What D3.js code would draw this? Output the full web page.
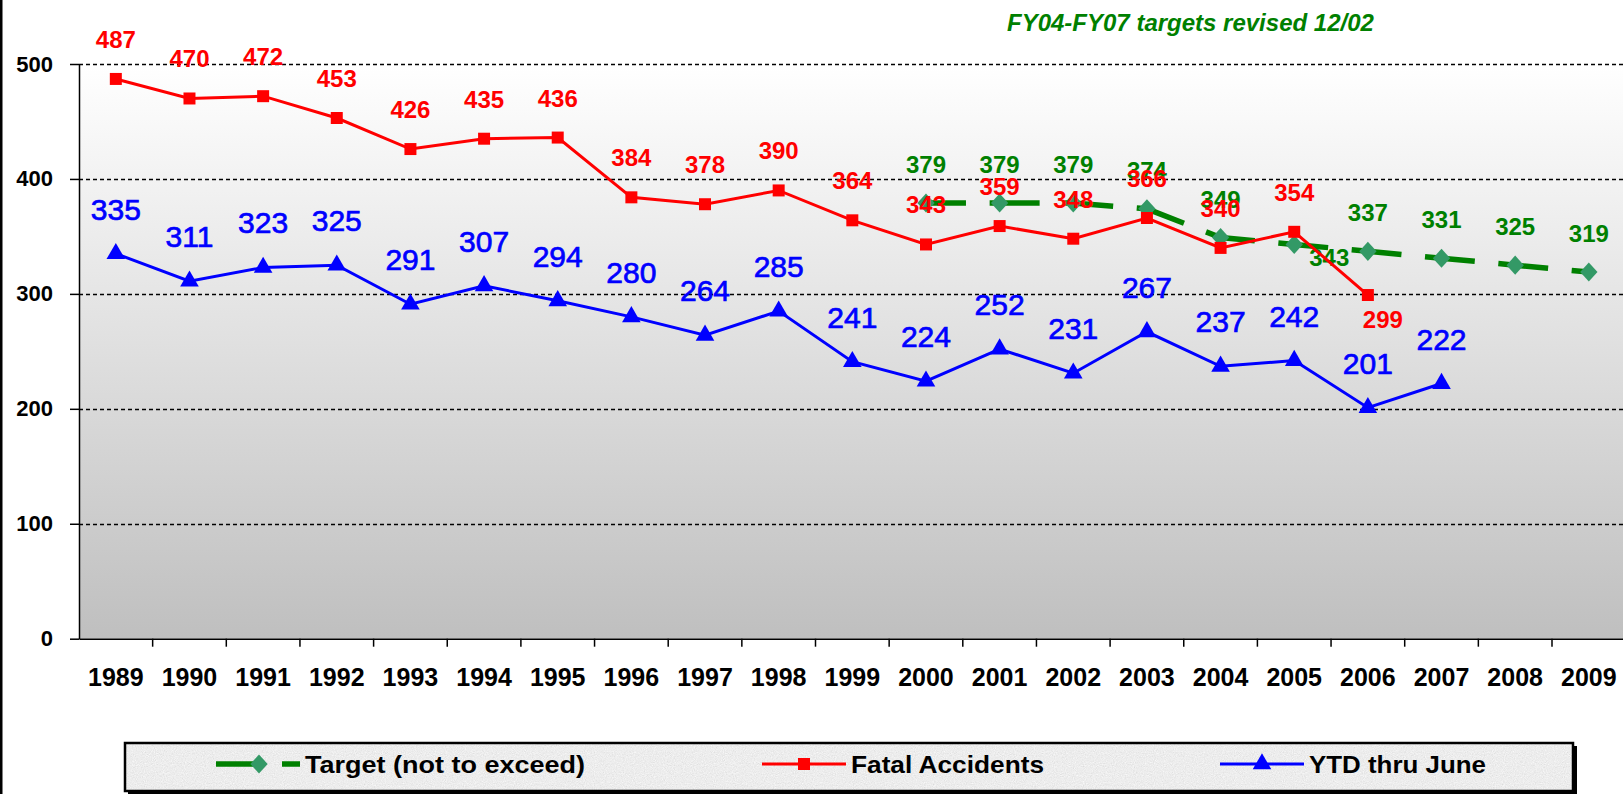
<!DOCTYPE html>
<html>
<head>
<meta charset="utf-8">
<script src="https://cdn.jsdelivr.net/npm/d3@7"></script>
<style>
body { margin: 0; background: #fff; }
svg { display: block; font-family: Arial, "Liberation Sans", sans-serif; }
</style>
</head>
<body>
<div id="chart"></div>
<script>
// ---- data ----
const years = ['1989','1990','1991','1992','1993','1994','1995','1996','1997','1998','1999',
               '2000','2001','2002','2003','2004','2005','2006','2007','2008','2009'];
const fatalYears = years.slice(0, 18);   // 1989 - 2006
const fatalValues = [487, 470, 472, 453, 426, 435, 436, 384, 378, 390, 364, 343, 359, 348, 366, 340, 354, 299];
const ytdYears = years.slice(0, 19);     // 1989 - 2007
const ytdValues = [335, 311, 323, 325, 291, 307, 294, 280, 264, 285, 241, 224, 252, 231, 267, 237, 242, 201, 222];
const targetYears = years.slice(11);     // 2000 - 2009
const targetValues = [379, 379, 379, 374, 349, 343, 337, 331, 325, 319];
const yTicks = [0, 100, 200, 300, 400, 500];
const legendNames = ['Target (not to exceed)', 'Fatal Accidents', 'YTD thru June'];
const note = 'FY04-FY07 targets revised 12/02';

// labels that sit below their point instead of above (value = x shift)
const labelBelow = {fatal: {'2006': 15}, target: {'2005': 35}};

const width = 1623, height = 794;
const bandW = 73.65;
const left = 79;

var svg = d3.select('#chart').append('svg')
  .attr('width', width)
  .attr('height', height);

svg.append('rect').attr('width', width).attr('height', height).attr('fill', '#fff');

// ******** defs *********
var defs = svg.append('defs');
var grad = defs.append('linearGradient')
  .attr('id', 'plotbg')
  .attr('x1', 0).attr('y1', 0).attr('x2', 0).attr('y2', 1);
grad.append('stop').attr('offset', '0%').attr('stop-color', '#ffffff');
grad.append('stop').attr('offset', '100%').attr('stop-color', '#bfbfbf');

var granite = defs.append('filter')
  .attr('id', 'granite')
  .attr('x', 0).attr('y', 0).attr('width', 1).attr('height', 1);
granite.append('feTurbulence')
  .attr('type', 'fractalNoise')
  .attr('baseFrequency', 0.9)
  .attr('numOctaves', 2)
  .attr('seed', 4);
granite.append('feColorMatrix')
  .attr('type', 'matrix')
  .attr('values', '0.33 0.33 0.33 0 0  0.33 0.33 0.33 0 0  0.33 0.33 0.33 0 0  0 0 0 0 1');
var ct = granite.append('feComponentTransfer');
['feFuncR', 'feFuncG', 'feFuncB'].forEach(function(f){
  ct.append(f).attr('type', 'linear').attr('slope', 0.45).attr('intercept', 0.62);
});

// ******** scales *********
var x = d3.scaleBand()
  .domain(years)
  .range([left, left + bandW * years.length])
  .padding(0);
var y = d3.scaleLinear()
  .domain([0, 500])
  .range([638.7, 64]);
function cx(d){ return x(d) + x.bandwidth() / 2; }

// outer chart border (left edge)
svg.append('rect')
  .attr('x', 0).attr('y', 0)
  .attr('width', 2.5).attr('height', height)
  .attr('fill', '#000');

// ******** plot area *********
svg.append('rect')
  .attr('x', left)
  .attr('y', y(500))
  .attr('width', x.range()[1] - left)
  .attr('height', y(0) - y(500))
  .attr('fill', 'url(#plotbg)');

svg.append('g')
  .selectAll('line')
  .data(yTicks.filter(function(v){ return v > 0; }))
  .join('line')
  .attr('x1', left).attr('x2', x.range()[1])
  .attr('y1', function(d){ return Math.round(y(d)) + 0.5; })
  .attr('y2', function(d){ return Math.round(y(d)) + 0.5; })
  .attr('stroke', '#000')
  .attr('stroke-width', 1.5)
  .attr('stroke-dasharray', '4,3');

// ******** axes *********
var yAxis = svg.append('g')
  .attr('transform', `translate(${left},0)`)
  .call(d3.axisLeft(y).tickValues(yTicks).tickSize(9).tickSizeOuter(0).tickPadding(17));
yAxis.selectAll('path, line').attr('stroke', '#000').attr('stroke-width', 1.5);
yAxis.selectAll('text')
  .attr('font-size', 22)
  .attr('font-weight', 'bold')
  .attr('font-family', 'Arial, "Liberation Sans", sans-serif')
  .attr('fill', '#000');

var xAxis = svg.append('g')
  .attr('transform', `translate(0,${y(0)})`)
  .call(d3.axisBottom(x).tickSize(0).tickSizeOuter(0).tickPadding(0));
xAxis.select('.domain').attr('stroke', '#000').attr('stroke-width', 1.5);
xAxis.selectAll('text')
  .attr('y', 47)
  .attr('dy', 0)
  .attr('font-size', 25)
  .attr('font-weight', 'bold')
  .attr('font-family', 'Arial, "Liberation Sans", sans-serif')
  .attr('fill', '#000');
xAxis.selectAll('.bound')
  .data(years.slice(1))
  .join('line')
  .attr('class', 'bound')
  .attr('x1', function(d){ return x(d); })
  .attr('x2', function(d){ return x(d); })
  .attr('y1', 0).attr('y2', 8)
  .attr('stroke', '#000')
  .attr('stroke-width', 1.5);

// ******** series *********
function pts(ys, vs){
  return ys.map(function(d, i){ return {year: d, value: vs[i]}; });
}
var line = d3.line()
  .x(function(d){ return cx(d.year); })
  .y(function(d){ return y(d.value); });

function drawLabels(g, data, opt){
  g.selectAll('text')
    .data(data)
    .join('text')
    .attr('x', function(d){
      var b = opt.below && opt.below[d.year];
      return cx(d.year) + (b !== undefined ? b : 0);
    })
    .attr('y', function(d){
      var b = opt.below && opt.below[d.year] !== undefined;
      return y(d.value) + (b ? opt.belowDy : -opt.aboveDy);
    })
    .attr('text-anchor', 'middle')
    .attr('font-size', opt.size)
    .attr('font-weight', opt.weight)
    .attr('fill', opt.color)
    .attr('stroke', opt.stroke ? opt.color : null)
    .attr('stroke-width', opt.stroke || null)
    .text(function(d){ return d.value; });
}

// target (green, dashed)
var targetData = pts(targetYears, targetValues);
var gT = svg.append('g');
gT.append('path')
  .datum(targetData)
  .attr('d', line)
  .attr('fill', 'none')
  .attr('stroke', '#008000')
  .attr('stroke-width', 5.5)
  .attr('stroke-dasharray', '50,23.65')
  .attr('stroke-dashoffset', 10);
gT.selectAll('.mk')
  .data(targetData)
  .join('path')
  .attr('class', 'mk')
  .attr('d', d3.symbol(d3.symbolSquare, 150))
  .attr('transform', function(d){ return `translate(${cx(d.year)},${y(d.value)}) scale(1,1.1) rotate(45)`; })
  .attr('fill', '#339966');
drawLabels(gT.append('g'), targetData, {size: 24, weight: 'bold', color: '#008000',
  aboveDy: 30, belowDy: 22, below: labelBelow.target});

// fatal accidents (red)
var fatalData = pts(fatalYears, fatalValues);
var gF = svg.append('g');
gF.append('path')
  .datum(fatalData)
  .attr('d', line)
  .attr('fill', 'none')
  .attr('stroke', '#ff0000')
  .attr('stroke-width', 3);
gF.selectAll('.mk')
  .data(fatalData)
  .join('path')
  .attr('class', 'mk')
  .attr('d', d3.symbol(d3.symbolSquare, 144))
  .attr('transform', function(d){ return `translate(${cx(d.year)},${y(d.value)})`; })
  .attr('fill', '#ff0000');
drawLabels(gF.append('g'), fatalData, {size: 24, weight: 'bold', color: '#ff0000',
  aboveDy: 31, belowDy: 33, below: labelBelow.fatal});

// ytd (blue)
var ytdData = pts(ytdYears, ytdValues);
var gY = svg.append('g');
gY.append('path')
  .datum(ytdData)
  .attr('d', line)
  .attr('fill', 'none')
  .attr('stroke', '#0000ff')
  .attr('stroke-width', 3);
gY.selectAll('.mk')
  .data(ytdData)
  .join('path')
  .attr('class', 'mk')
  .attr('d', d3.symbol(d3.symbolTriangle, 150))
  .attr('transform', function(d){ return `translate(${cx(d.year)},${y(d.value)})`; })
  .attr('fill', '#0000ff');
drawLabels(gY.append('g'), ytdData, {size: 30, weight: 'normal', color: '#0000ff',
  stroke: 0.7, aboveDy: 34, belowDy: 34});

// ******** note *********
svg.append('text')
  .attr('x', 1007)
  .attr('y', 31)
  .attr('font-size', 24)
  .attr('font-weight', 'bold')
  .attr('font-style', 'italic')
  .attr('fill', '#008000')
  .text(note);

// ******** legend *********
var legend = svg.append('g').attr('id', 'legend');
legend.append('rect')
  .attr('x', 128).attr('y', 746)
  .attr('width', 1449).attr('height', 49)
  .attr('fill', '#000');
legend.append('rect')
  .attr('x', 125).attr('y', 743)
  .attr('width', 1448).attr('height', 48)
  .attr('fill', '#d8d8d8')
  .attr('filter', 'url(#granite)');
legend.append('rect')
  .attr('x', 125).attr('y', 743)
  .attr('width', 1448).attr('height', 48)
  .attr('fill', 'none')
  .attr('stroke', '#000')
  .attr('stroke-width', 2.5);

var legendX = [216, 762, 1220];
var legendTextW = [280, 193, 177];
var ly = 764;
var entries = legend.selectAll('.entry')
  .data(legendNames)
  .join('g')
  .attr('class', 'entry')
  .attr('transform', function(d, i){ return `translate(${legendX[i]},${ly})`; });

entries.append('line')
  .attr('x1', 0).attr('x2', 84)
  .attr('y1', 0).attr('y2', 0)
  .attr('stroke', function(d, i){ return ['#008000', '#ff0000', '#0000ff'][i]; })
  .attr('stroke-width', function(d, i){ return i === 0 ? 5.5 : 3; })
  .attr('stroke-dasharray', function(d, i){ return i === 0 ? '42,24' : null; });
entries.append('path')
  .attr('d', function(d, i){
    return d3.symbol([d3.symbolSquare, d3.symbolSquare, d3.symbolTriangle][i], [150, 144, 150][i])();
  })
  .attr('transform', function(d, i){ return i === 0 ? 'translate(43,0) scale(1,1.1) rotate(45)' : 'translate(42,0)'; })
  .attr('fill', function(d, i){ return ['#339966', '#ff0000', '#0000ff'][i]; });
entries.append('text')
  .attr('x', 89)
  .attr('y', 8.5)
  .attr('font-size', 24)
  .attr('font-weight', 'bold')
  .attr('fill', '#000')
  .attr('textLength', function(d, i){ return legendTextW[i]; })
  .attr('lengthAdjust', 'spacingAndGlyphs')
  .text(function(d){ return d; });
</script>
</body>
</html>
